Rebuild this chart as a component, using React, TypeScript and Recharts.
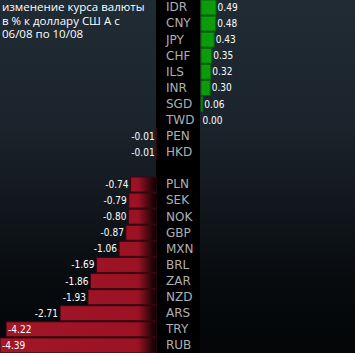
import { BarChart, Bar, XAxis, YAxis, LabelList, Rectangle } from 'recharts';

// изменение курса к доллару, % (06/08 - 10/08)
const currencies = [
  'IDR', 'CNY', 'JPY', 'CHF', 'ILS', 'INR', 'SGD', 'TWD', 'PEN', 'HKD', '',
  'PLN', 'SEK', 'NOK', 'GBP', 'MXN', 'BRL', 'ZAR', 'NZD', 'ARS', 'TRY', 'RUB',
];
const changes: (number | null)[] = [
  0.49, 0.48, 0.43, 0.35, 0.32, 0.3, 0.06, 0.0, -0.01, -0.01, null,
  -0.74, -0.79, -0.8, -0.87, -1.06, -1.69, -1.86, -1.93, -2.71, -4.22, -4.39,
];
const titleLines = ['изменение курса валюты', 'в % к доллару СШ А с', '06/08 по 10/08'];

const rows = currencies.map((name, i) => {
  const v = changes[i];
  return {
    name,
    gain: v != null && v >= 0 ? v : null,
    loss: v != null && v < 0 ? v : null,
  };
});

const labelFont = "'Liberation Sans Narrow', 'DejaVu Sans Condensed', sans-serif";

// eslint-disable-next-line @typescript-eslint/no-explicit-any
function GainLabel(props: any) {
  const { x, y, width, height, value } = props;
  if (value == null) return null;
  const w = Number(value) === 0 ? 0 : Number(width);
  return (
    <text
      x={Number(x) + w + 1.5}
      y={Number(y) + Number(height) / 2}
      dy="0.35em"
      fill="#ffffff"
      fontSize={10}
      fontFamily={labelFont}
    >
      {Number(value).toFixed(2)}
    </text>
  );
}

// eslint-disable-next-line @typescript-eslint/no-explicit-any
function GainBar(props: any) {
  if (!props.value) return <g />;
  return <Rectangle {...props} />;
}

// eslint-disable-next-line @typescript-eslint/no-explicit-any
function LossLabel(props: any) {
  const { x, y, width, height, value } = props;
  if (value == null) return null;
  const text = Number(value).toFixed(2);
  const left = Math.min(Number(x), Number(x) + Number(width));
  const textW = text.length * 4;
  const inside = left - 3 - textW < 0;
  return (
    <text
      x={inside ? left + 2 : left - 2}
      y={Number(y) + Number(height) / 2}
      dy="0.35em"
      textAnchor={inside ? 'start' : 'end'}
      fill="#ffffff"
      fontSize={10}
      fontFamily={labelFont}
    >
      {text}
    </text>
  );
}

// eslint-disable-next-line @typescript-eslint/no-explicit-any
function CurrencyTick(props: any) {
  const { x, y, payload } = props;
  return (
    <text
      x={Number(x) - 35}
      y={y}
      dy="0.36em"
      fill="#aeb0b2"
      fontSize={12}
      fontFamily="'DejaVu Sans', sans-serif"
    >
      {payload.value}
    </text>
  );
}

export default function App() {
  return (
    <div
      style={{
        position: 'absolute',
        left: 0,
        top: 0,
        width: 355,
        height: 353,
        overflow: 'hidden',
        background: 'linear-gradient(to bottom, #202b34 0%, #1b242c 35%, #080b0e 80%, #030507 100%)',
      }}
    >
      <style>{'body{margin:0}'}</style>
      <div style={{ position: 'absolute', left: 156, top: 0, width: 44, height: 353, background: '#000' }} />

      <div style={{ position: 'absolute', left: 0, top: -1 }}>
        <BarChart width={157} height={354} data={rows} layout="vertical" margin={{ top: 0, right: 0, bottom: 0, left: 0 }}>
          <defs>
            <linearGradient id="lossFill" gradientUnits="userSpaceOnUse" x1="0" y1="0" x2="157" y2="0">
              <stop offset="0%" stopColor="#a31728" />
              <stop offset="88%" stopColor="#9a1224" />
              <stop offset="100%" stopColor="#000000" />
            </linearGradient>
          </defs>
          <XAxis type="number" domain={[-4.39, 0]} hide />
          <YAxis type="category" dataKey="name" hide />
          <Bar dataKey="loss" barSize={15} fill="url(#lossFill)" stroke="#3a0710" strokeWidth={1} isAnimationActive={false}>
            <LabelList dataKey="loss" content={<LossLabel />} />
          </Bar>
        </BarChart>
      </div>

      <div style={{ position: 'absolute', left: 157, top: -1 }}>
        <BarChart width={198} height={354} data={rows} layout="vertical" margin={{ top: 0, right: 0, bottom: 0, left: 0 }}>
          <XAxis type="number" domain={[0, 5]} hide />
          <YAxis
            type="category"
            dataKey="name"
            width={44}
            interval={0}
            axisLine={false}
            tickLine={false}
            tickSize={0}
            tickMargin={0}
            tick={<CurrencyTick />}
          />
          <Bar
            dataKey="gain"
            barSize={15}
            minPointSize={0.01}
            fill="#0b9b0b"
            stroke="#066006"
            strokeWidth={1}
            shape={<GainBar />}
            isAnimationActive={false}
          >
            <LabelList dataKey="gain" content={<GainLabel />} />
          </Bar>
        </BarChart>
      </div>

      <div
        style={{
          position: 'absolute',
          left: 2,
          top: 0,
          color: '#ffffff',
          fontFamily: "'Open Sans', sans-serif",
          fontSize: 11.5,
          lineHeight: '13.5px',
          whiteSpace: 'nowrap',
        }}
      >
        {titleLines.map((l) => (
          <div key={l}>{l}</div>
        ))}
      </div>
    </div>
  );
}
